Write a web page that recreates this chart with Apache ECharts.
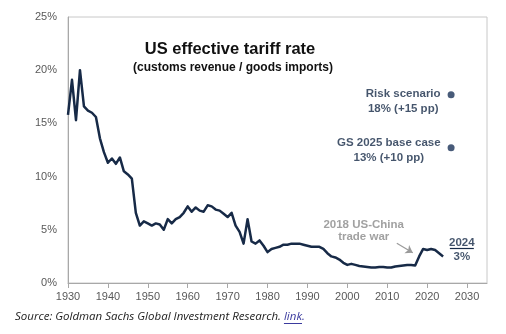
<!DOCTYPE html>
<html>
<head>
<meta charset="utf-8">
<script src="https://cdn.jsdelivr.net/npm/echarts@6/dist/echarts.min.js"></script>
<style>
html,body{margin:0;padding:0;background:#fff;}
#c{width:506px;height:334px;}
</style>
</head>
<body>
<div id="c"></div>
<script>
// ---- data ----
const years = [1930,1931,1932,1933,1934,1935,1936,1937,1938,1939,1940,1941,1942,1943,1944,1945,1946,1947,1948,1949,
  1950,1951,1952,1953,1954,1955,1956,1957,1958,1959,1960,1961,1962,1963,1964,1965,1966,1967,1968,1969,
  1970,1971,1972,1973,1974,1975,1976,1977,1978,1979,1980,1981,1982,1983,1984,1985,1986,1987,1988,1989,
  1990,1991,1992,1993,1994,1995,1996,1997,1998,1999,2000,2001,2002,2003,2004,2005,2006,2007,2008,2009,
  2010,2011,2012,2013,2014,2015,2016,2017,2018,2019,2020,2021,2022,2023,2024];
const rates = [15.8,19.1,15.3,20.0,16.6,16.2,16.0,15.6,13.6,12.3,11.3,11.7,11.2,11.8,10.5,10.2,9.8,6.6,5.4,5.8,
  5.6,5.4,5.6,5.5,5.0,6.0,5.6,6.0,6.2,6.6,7.2,6.7,7.1,6.8,6.7,7.3,7.2,6.9,6.8,6.5,
  6.2,6.6,5.4,4.8,3.7,6.0,3.9,3.7,4.0,3.5,2.9,3.2,3.3,3.4,3.6,3.6,3.7,3.7,3.7,3.6,
  3.5,3.4,3.4,3.4,3.2,2.8,2.5,2.4,2.2,1.9,1.7,1.8,1.7,1.6,1.55,1.5,1.45,1.45,1.5,1.5,
  1.45,1.45,1.55,1.6,1.65,1.7,1.7,1.65,2.5,3.2,3.1,3.2,3.1,2.8,2.5];

const scenarioYears = [2026, 2026];
const scenarioValues = [17.7, 12.7];
const scenarioNames = ['Risk scenario', 'GS 2025 base case'];
const scenarioLabels = ['18% (+15 pp)', '13% (+10 pp)'];

const xTickLabels = [1930,1940,1950,1960,1970,1980,1990,2000,2010,2020,2030];
const yTicks = [0,5,10,15,20,25];

const titleText = 'US effective tariff rate';
const subtitleText = '(customs revenue / goods imports)';
const sourceText = 'Source: Goldman Sachs Global Investment Research. ';
const linkText = 'link';

// annotations (data coordinates)
const tradeWarText = ['2018 US-China', 'trade war'];
const tradeWarPos = [[2004.1, 5.5], [2004.1, 4.3]];
const tradeWarArrow = [[2012.4, 3.73], [2016.4, 2.85]];
const lastText = ['2024', '3%'];
const lastPos = [[2028.7, 3.75], [2028.7, 2.5]];
const lastUnderline = [[2025.7, 3.22], [2031.7, 3.22]];

// ---- chart ----
const navy = '#172a47';
const dotNavy = '#1a3258';
const grayTxt = '#8a8a8a';

const chart = echarts.init(document.getElementById('c'), null, {renderer: 'canvas'});

const lineData = years.map((y, i) => [y, rates[i]]);
const scenarioData = scenarioYears.map((y, i) => ({
  value: [y, scenarioValues[i]],
  label: {
    formatter: '{a|' + scenarioNames[i] + '}\n{b|' + scenarioLabels[i] + '}',
    offset: i === 0 ? [0, 6.5] : [0, 2.5]
  }
}));

const annoData = [
  {value: tradeWarPos[0], label: {formatter: tradeWarText[0], color: grayTxt}},
  {value: tradeWarPos[1], label: {formatter: tradeWarText[1], color: grayTxt}},
  {value: lastPos[0], label: {formatter: lastText[0], color: navy}},
  {value: lastPos[1], label: {formatter: lastText[1], color: navy}}
];

const option = {
  animation: false,
  backgroundColor: '#fff',
  textStyle: {fontFamily: 'Liberation Sans, Arial, sans-serif'},
  title: [
    {text: titleText, left: 225, top: 36, textAlign: 'center',
     textStyle: {fontSize: 16.5, fontWeight: 'bold', color: '#111', fontFamily: 'Liberation Sans, Arial, sans-serif'}},
    {text: subtitleText, left: 228, top: 57, textAlign: 'center',
     textStyle: {fontSize: 12, fontWeight: 'bold', color: '#111', fontFamily: 'Liberation Sans, Arial, sans-serif'}}
  ],
  grid: {left: 68, right: 19, top: 17, bottom: 51, show: true, borderColor: '#c8c8c8', borderWidth: 1, backgroundColor: 'transparent'},
  xAxis: {
    type: 'value', min: 1930, max: 2035, interval: 10,
    axisLine: {show: true, lineStyle: {color: '#a8a8a8', width: 1}},
    axisTick: {show: true, length: 5, lineStyle: {color: '#a8a8a8'}, customValues: xTickLabels},
    axisLabel: {color: '#595959', fontSize: 11, margin: 8, customValues: xTickLabels,
      formatter: v => String(v)},
    splitLine: {show: false}
  },
  yAxis: {
    type: 'value', min: 0, max: 25, interval: 5,
    axisLine: {show: true, lineStyle: {color: '#a8a8a8', width: 1}},
    axisTick: {show: false},
    axisLabel: {color: '#595959', fontSize: 11, margin: 11, formatter: '{value}%'},
    splitLine: {show: false}
  },
  series: [
    {
      type: 'line', data: lineData, showSymbol: false, symbol: 'none',
      lineStyle: {color: navy, width: 2.5, join: 'round'},
      itemStyle: {color: navy}, z: 3
    },
    {
      type: 'scatter', data: scenarioData, symbol: 'circle', symbolSize: 7,
      itemStyle: {color: dotNavy},
      label: {
        show: true, position: 'left', distance: 7,
        rich: {
          a: {fontSize: 11.5, fontWeight: 'bold', color: navy, align: 'center', lineHeight: 15, fontFamily: 'Liberation Sans, Arial, sans-serif'},
          b: {fontSize: 11.5, fontWeight: 'bold', color: navy, align: 'center', lineHeight: 15, fontFamily: 'Liberation Sans, Arial, sans-serif'}
        }
      }
    },
    {
      type: 'scatter', data: annoData, symbolSize: 0, silent: true,
      label: {show: true, position: 'inside', fontSize: 11.5, fontWeight: 'bold', fontFamily: 'Liberation Sans, Arial, sans-serif'},
      markLine: {
        silent: true, animation: false,
        symbol: ['none', 'none'],
        label: {show: false},
        data: [
          [{coord: tradeWarArrow[0], symbol: 'none', lineStyle: {color: '#9a9a9a', width: 1.2, type: 'solid'}},
           {coord: tradeWarArrow[1], symbol: 'arrow', symbolSize: 7}],
          [{coord: lastUnderline[0], lineStyle: {color: navy, width: 1.2, type: 'solid'}},
           {coord: lastUnderline[1]}]
        ]
      }
    }
  ]
};
chart.setOption(option);

// source line with underlined link
const srcFont = 'italic 11.5px "Open Sans", sans-serif';
const cv = document.createElement('canvas').getContext('2d');
cv.font = srcFont;
const w1 = cv.measureText(sourceText).width;
const w2 = cv.measureText(linkText).width;
const sx = 15, sy = 319;
chart.setOption({
  graphic: [
    {type: 'text', left: sx, top: sy - 8, silent: true,
     style: {text: sourceText, font: srcFont, fill: '#222'}},
    {type: 'text', left: sx + w1, top: sy - 8, silent: true,
     style: {text: linkText + '.', font: srcFont, fill: '#3b3b9e'}},
    {type: 'line', silent: true, shape: {x1: sx + w1, y1: sy + 4.5, x2: sx + w1 + w2, y2: sy + 4.5},
     style: {stroke: '#3b3b9e', lineWidth: 1}}
  ]
});
</script>
</body>
</html>
